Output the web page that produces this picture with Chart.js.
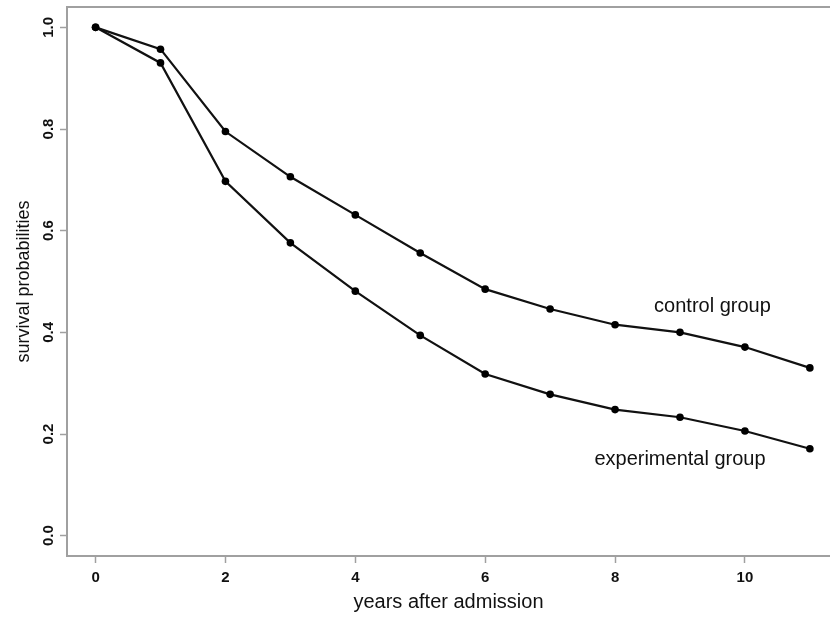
<!DOCTYPE html>
<html lang="en">
<head>
    <meta charset="UTF-8">
    <title>Survival probabilities</title>
    <script src="https://cdn.jsdelivr.net/npm/chart.js"></script>
    <style>
        body {
            margin: 0;
            padding: 0;
            background-color: #ffffff;
            overflow: hidden;
        }

        #chartBox {
            width: 834px;
            height: 617px;
            position: relative;
        }
    </style>
</head>
<body>

    <div id="chartBox">
        <canvas id="survivalChart"></canvas>
    </div>

    <script>
        const years = [0, 1, 2, 3, 4, 5, 6, 7, 8, 9, 10, 11];
        const controlGroup = [1.0, 0.957, 0.795, 0.706, 0.631, 0.556, 0.485, 0.446, 0.415, 0.400, 0.371, 0.330];
        const experimentalGroup = [1.0, 0.930, 0.697, 0.576, 0.481, 0.394, 0.318, 0.278, 0.248, 0.233, 0.206, 0.171];
        const xTicks = [0, 2, 4, 6, 8, 10];
        const yTicks = [0.0, 0.2, 0.4, 0.6, 0.8, 1.0];

        // text labels placed in data coordinates
        const groupLabels = [
            { text: 'control group', x: 9.5, y: 0.45 },
            { text: 'experimental group', x: 9, y: 0.15 }
        ];

        const FONT = '"Liberation Sans", Arial, sans-serif';
        const AXIS_GREY = '#a0a0a0';

        const toPoints = values => years.map((yr, i) => ({ x: yr, y: values[i] }));

        // top edge of the box (left and bottom come from the axis borders)
        const boxTop = {
            id: 'boxTop',
            afterDraw(chart) {
                const { ctx, chartArea } = chart;
                ctx.save();
                ctx.strokeStyle = AXIS_GREY;
                ctx.lineWidth = 2;
                ctx.beginPath();
                ctx.moveTo(chartArea.left - 1, chartArea.top);
                ctx.lineTo(chartArea.right, chartArea.top);
                ctx.stroke();
                ctx.restore();
            }
        };

        const groupText = {
            id: 'groupText',
            afterDatasetsDraw(chart) {
                const { ctx, scales } = chart;
                ctx.save();
                ctx.fillStyle = '#111';
                ctx.font = '20px ' + FONT;
                ctx.textAlign = 'center';
                ctx.textBaseline = 'middle';
                groupLabels.forEach(l => {
                    ctx.fillText(l.text, scales.x.getPixelForValue(l.x), scales.y.getPixelForValue(l.y));
                });
                ctx.restore();
            }
        };

        const ctx = document.getElementById('survivalChart').getContext('2d');
        const survivalChart = new Chart(ctx, {
            type: 'line',
            data: {
                datasets: [
                    { label: 'control group', data: toPoints(controlGroup) },
                    { label: 'experimental group', data: toPoints(experimentalGroup) }
                ]
            },
            options: {
                responsive: true,
                maintainAspectRatio: false,
                animation: false,
                layout: { padding: { top: 7, right: 0, left: 0, bottom: 0 } },
                elements: {
                    line: { borderColor: '#111', borderWidth: 2.2, tension: 0 },
                    point: { radius: 3.8, backgroundColor: '#000', borderColor: '#000', borderWidth: 0 }
                },
                plugins: {
                    legend: { display: false },
                    tooltip: { enabled: false }
                },
                scales: {
                    x: {
                        type: 'linear',
                        min: -0.44,
                        max: 11.31,
                        afterBuildTicks: s => { s.ticks = xTicks.map(v => ({ value: v })); },
                        afterFit: s => { s.height = 61; },
                        grid: { drawOnChartArea: false, drawTicks: true, tickLength: 7, tickColor: AXIS_GREY, tickWidth: 1.5 },
                        border: { display: true, color: AXIS_GREY, width: 2 },
                        ticks: {
                            padding: 6,
                            color: '#111',
                            font: { family: FONT, size: 15, weight: 'bold' },
                            callback: v => String(v)
                        },
                        title: {
                            display: true,
                            text: 'years after admission',
                            color: '#111',
                            font: { family: FONT, size: 20 },
                            padding: { top: 0, bottom: 3 }
                        }
                    },
                    y: {
                        min: -0.04,
                        max: 1.04,
                        afterBuildTicks: s => { s.ticks = yTicks.map(v => ({ value: v })); },
                        afterFit: s => { s.width = 67; s.paddingTop = 0; s.paddingBottom = 0; },
                        grid: { drawOnChartArea: false, drawTicks: true, tickLength: 7, tickColor: AXIS_GREY, tickWidth: 1.5 },
                        border: { display: true, color: AXIS_GREY, width: 2 },
                        ticks: {
                            minRotation: 90,
                            maxRotation: 90,
                            crossAlign: 'center',
                            padding: 1,
                            color: '#111',
                            font: { family: FONT, size: 15, weight: 'bold' },
                            callback: v => v.toFixed(1)
                        },
                        title: {
                            display: true,
                            text: 'survival probabilities',
                            color: '#111',
                            font: { family: FONT, size: 18 },
                            padding: { top: 13, bottom: 0 }
                        }
                    }
                }
            },
            plugins: [boxTop, groupText]
        });
    </script>

</body>
</html>
